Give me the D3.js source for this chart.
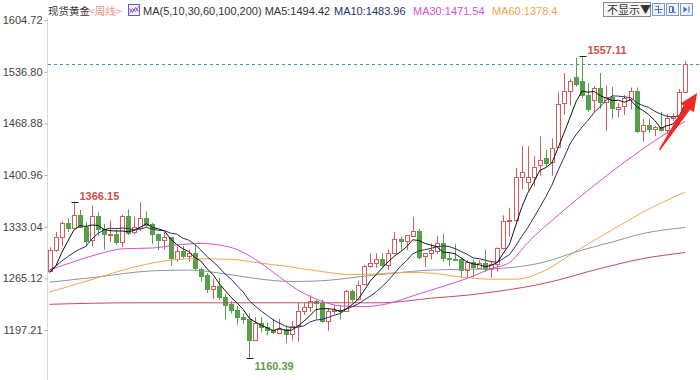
<!DOCTYPE html>
<html>
<head>
<meta charset="utf-8">
<script src="https://cdn.jsdelivr.net/npm/d3@7"></script>
<style>
  body { margin: 0; background: #fff; }
  svg { display: block; font-family: "Liberation Sans", Arial, "Noto Sans CJK SC", sans-serif; }
</style>
</head>
<body>
<div id="chart"></div>
<script>
// weekly candles, week of 2017-12-25 .. week of 2019-12-30 (index 0..105)
const opens = [
  1275,1303,1320,1338,1332,1349,1333,1315,1347,1330,
  1323,1324,1313,1347,1325,1332,1345,1336,1323,1315,
  1319,1291,1301,1294,1298,1278,1269,1251,1255,1241,
  1231,1223,1214,1212,1184,1206,1201,1197,1194,1199,
  1192,1203,1222,1227,1235,1233,1209,1222,1223,1222,
  1248,1238,1257,1281,1285,1290,1282,1298,1317,1314,
  1322,1328,1294,1298,1302,1312,1292,1291,1290,1275,
  1286,1279,1285,1277,1284,1305,1341,1342,1398,1392,
  1399,1414,1423,1418,1438,1495,1511,1530,1524,1506,
  1499,1515,1497,1504,1488,1491,1502,1512,1459,1467,
  1461,1464,1460,1476,1478,1510
];
const highs = [
  1306,1326,1340,1344,1366.15,1355,1339,1361,1352,1337,
  1341,1329,1349,1356,1346,1365,1353,1338,1324,1326,
  1319,1307,1308,1303,1309,1279,1272,1264,1266,1245,
  1235,1229,1219,1219,1214,1214,1207,1212,1212,1203,
  1209,1233,1233,1243,1237,1237,1225,1230,1230,1250,
  1250,1262,1283,1298,1298,1298,1303,1326,1320,1322,
  1346,1330,1298,1311,1321,1324,1298,1310,1292,1289,
  1290,1289,1303,1287,1306,1348,1358,1410,1439,1439,
  1426,1452,1434,1449,1510,1535,1527,1555,1557.11,1522,
  1518,1535,1519,1517,1496,1506,1516,1516,1475,1475,
  1465,1484,1481,1482,1514,1551
];
const lows = [
  1274,1300,1307,1326,1331,1331,1307,1307,1321,1303,
  1313,1309,1306,1322,1323,1327,1332,1310,1302,1303,
  1282,1287,1291,1287,1275,1261,1246,1238,1237,1211,
  1219,1204,1205,1160.39,1183,1194,1190,1192,1192,1180,
  1183,1182,1217,1221,1211,1207,1196,1218,1211,1221,
  1234,1236,1256,1279,1279,1280,1276,1297,1303,1302,
  1321,1290,1280,1290,1297,1287,1281,1288,1266,1267,
  1266,1278,1274,1266,1274,1305,1320,1339,1382,1381,
  1386,1400,1411,1400,1437,1480,1492,1517,1502,1484,
  1484,1488,1459,1475,1477,1480,1487,1456,1445,1456,
  1452,1458,1455,1472,1477,1510
];
const closes = [
  1303,1320,1338,1332,1349,1333,1315,1347,1330,1323,
  1324,1313,1347,1325,1332,1345,1336,1323,1315,1319,
  1291,1301,1294,1298,1278,1269,1251,1255,1241,1231,
  1223,1214,1212,1184,1206,1201,1197,1194,1199,1192,
  1203,1222,1227,1235,1233,1209,1222,1223,1222,1248,
  1238,1257,1281,1285,1290,1282,1298,1317,1314,1322,
  1328,1294,1298,1302,1312,1292,1291,1290,1275,1286,
  1279,1285,1277,1284,1305,1341,1342,1398,1405,1399,
  1412,1421,1417,1436,1495,1511,1524,1521,1506,1488,
  1515,1497,1504,1490,1491,1502,1512,1459,1467,1462,
  1464,1460,1476,1478,1510,1547
];

// fast moving averages, one value per candle
const ma5 = [
  1272.6,1280.6,1298.6,1313.6,1328.4,1334.4,1333.4,1335.2,1334.8,1329.6,
  1327.8,1327.4,1327.4,1326.4,1328.2,1332.4,1337,1332.2,1330.2,1327.6,
  1316.8,1309.8,1304,1300.6,1292.4,1288,1278,1270.2,1258.8,1249.4,
  1240.2,1232.8,1224.2,1212.8,1207.8,1203.4,1200,1196.4,1199.4,1196.6,
  1197,1202,1208.6,1215.8,1224,1225.2,1225.2,1224.4,1221.8,1224.8,
  1230.6,1237.6,1249.2,1261.8,1270.2,1279,1287.2,1294.4,1300.2,1306.6,
  1315.8,1315,1311.2,1308.8,1306.8,1299.6,1299,1297.4,1292,1286.8,
  1284.2,1283,1280.4,1282.2,1286,1298.4,1309.8,1334,1358.2,1377,
  1391.2,1407,1410.8,1417,1436.2,1456,1476.6,1497.4,1511.4,1510,
  1510.8,1505.4,1502,1498.8,1499.4,1496.8,1499.8,1490.8,1486.2,1480.4,
  1472.8,1462.4,1465.8,1468,1477.6,1494.42
];
const ma10 = [
  1275.5,1280.9,1287.8,1293.5,1299,1303.5,1307,1316.9,1324.2,1329,
  1331.1,1330.4,1331.3,1330.6,1328.9,1330.1,1332.2,1329.8,1328.3,1327.9,
  1324.6,1323.4,1318.1,1315.4,1310,1302.4,1293.9,1287.1,1279.7,1270.9,
  1264.1,1255.4,1247.2,1235.8,1228.6,1221.8,1216.4,1210.3,1206.1,1202.2,
  1200.2,1201,1202.5,1207.6,1210.3,1211.1,1213.6,1216.5,1218.8,1224.4,
  1227.9,1231.4,1236.8,1241.8,1247.5,1254.8,1262.4,1271.8,1281,1288.4,
  1297.4,1301.1,1302.8,1304.5,1306.7,1307.7,1307,1304.3,1300.4,1296.8,
  1291.9,1291,1288.9,1287.1,1286.4,1291.3,1296.4,1307.2,1320.2,1331.5,
  1344.8,1358.4,1372.4,1387.6,1406.6,1423.6,1441.8,1454.1,1464.2,1473.1,
  1483.4,1491,1499.7,1505.1,1504.7,1503.8,1502.6,1496.4,1492.5,1489.9,
  1484.8,1481.1,1478.3,1477.1,1479,1483.96
];

// slow moving averages, read at [candle index, value]
const ma30 = [[0,1276],[4,1287],[9,1299],[12,1304],[17,1305],[21,1309],[25,1311],[28,1309],
  [31,1303],[34,1290],[37,1273],[41,1250],[45,1235],[48,1229],[52,1228],[56,1232],[60,1242],
  [64,1252],[69,1265],[73,1278],[76,1286],[79,1312],[84,1348],[89,1381],[95,1418],[100,1446],[105,1471.54]];
const ma60 = [[0,1247],[8,1266],[14,1280],[19,1288],[24,1291],[30,1290],[35,1285],[40,1280],
  [45,1274],[50,1270],[54,1271],[59,1273],[63,1272],[68,1267],[73,1264],[77,1264],[82,1276],
  [87,1301],[93,1329],[98,1352],[105,1378.4]];
const ma100 = [[0,1260],[8,1267],[17,1275],[23,1276],[29,1271],[34,1265],[40,1261],[45,1262],
  [51,1267],[57,1272],[63,1276],[69,1277],[74,1278],[82,1287],[87,1300],[93,1313],[98,1324],[105,1332]];
const ma200 = [[0,1231],[14,1233],[30,1233],[45,1233],[55,1233],[63,1239],[69,1243],[74,1248],
  [82,1259],[90,1276],[98,1291],[105,1299]];

const yTicks = [1604.72, 1536.80, 1468.88, 1400.96, 1333.04, 1265.12, 1197.21];
const lastPrice = 1547;
const highMarks = [4, 88];   // candles whose high is labelled
const lowMarks = [33];       // candle whose low is labelled
const arrowFrom = [100.8, 1434], arrowTo = [107, 1509];

const width = 700, height = 380;
const upColor = '#d65a5e', downColor = '#56a049';

const svg = d3.select('#chart').append('svg')
  .attr('width', width).attr('height', height);

const x = d3.scaleLinear().domain([0, 105]).range([49.5, 685]);
const y = d3.scaleLinear().domain([1197.21, 1604.72]).range([330, 20.1]);
const cx = i => Math.round(x(i)) + 0.5;

// y axis
svg.append('line')
  .attr('x1', 47.5).attr('x2', 47.5).attr('y1', 18).attr('y2', height)
  .attr('stroke', '#dcdcdc');

const yAxis = d3.axisLeft(y).tickValues(yTicks).tickFormat(d3.format('.2f'))
  .tickSize(3).tickPadding(2);
svg.append('g')
  .attr('transform', 'translate(47.5,0)')
  .call(yAxis)
  .call(g => g.select('.domain').remove())
  .call(g => g.selectAll('.tick line').attr('stroke', '#aaa'))
  .call(g => g.selectAll('.tick text').attr('fill', '#444').attr('font-size', 11)
    .attr('font-family', '"Liberation Sans", Arial, sans-serif'));

// last price line
svg.append('line')
  .attr('x1', 48).attr('x2', width)
  .attr('y1', Math.round(y(lastPrice)) + 0.5).attr('y2', Math.round(y(lastPrice)) + 0.5)
  .attr('stroke', '#3d8fcf').attr('stroke-dasharray', '3,3');

// candles
const idx = d3.range(closes.length);
const candles = svg.append('g').selectAll('g').data(idx).join('g')
  .attr('stroke', i => closes[i] >= opens[i] ? upColor : downColor);

candles.append('line')
  .attr('x1', cx).attr('x2', cx)
  .attr('y1', i => y(highs[i])).attr('y2', i => y(lows[i]));

candles.append('rect')
  .attr('x', i => cx(i) - 2)
  .attr('width', 4)
  .attr('y', i => Math.round(y(Math.max(opens[i], closes[i]))) + 0.5)
  .attr('height', i => Math.max(1, Math.round(Math.abs(y(opens[i]) - y(closes[i])))))
  .attr('fill', i => closes[i] >= opens[i] ? '#fff' : downColor);

// moving averages
const slowLine = d3.line().x(d => x(d[0])).y(d => y(d[1])).curve(d3.curveMonotoneX);
const fastLine = d3.line().x((d, i) => x(i)).y(d => y(d));

[[ma200, '#c24d62'], [ma100, '#8a96a6'], [ma60, '#f0a64c'], [ma30, '#d84fd8']]
  .forEach(([data, color]) => {
    svg.append('path').datum(data).attr('d', slowLine)
      .attr('fill', 'none').attr('stroke', color).attr('stroke-width', 1);
  });
[[ma10, '#27306e'], [ma5, '#111']].forEach(([data, color]) => {
  svg.append('path').datum(data).attr('d', fastLine)
    .attr('fill', 'none').attr('stroke', color).attr('stroke-width', 1);
});

// extreme value labels
highMarks.forEach(i => {
  const px = cx(i), py = Math.round(y(highs[i])) + 0.5;
  svg.append('line').attr('x1', px - 3).attr('x2', px + 4).attr('y1', py).attr('y2', py)
    .attr('stroke', '#222');
  svg.append('text').attr('x', px + 5).attr('y', py - 3)
    .attr('font-size', 11).attr('font-weight', 'bold').attr('fill', '#d0504f')
    .text(d3.format('.2f')(highs[i]));
});
lowMarks.forEach(i => {
  const px = cx(i), py = Math.round(y(lows[i])) + 0.5;
  svg.append('line').attr('x1', px - 3).attr('x2', px + 4).attr('y1', py).attr('y2', py)
    .attr('stroke', '#222');
  svg.append('text').attr('x', px + 5).attr('y', py + 11)
    .attr('font-size', 11).attr('font-weight', 'bold').attr('fill', '#5f9e4a')
    .text(d3.format('.2f')(lows[i]));
});

// red arrow
{
  const x0 = x(arrowFrom[0]), y0 = y(arrowFrom[1]);
  const x1 = x(arrowTo[0]), y1 = y(arrowTo[1]);
  const len = Math.hypot(x1 - x0, y1 - y0);
  const ux = (x1 - x0) / len, uy = (y1 - y0) / len;
  const nx = -uy, ny = ux;
  const head = 18, hw = 8, sw = 3.5, tw = 0.8;
  const bx = x1 - ux * head, by = y1 - uy * head;
  const pts = [
    [x0 + nx * tw, y0 + ny * tw],
    [bx + nx * sw, by + ny * sw],
    [bx + nx * hw, by + ny * hw],
    [x1, y1],
    [bx - nx * hw, by - ny * hw],
    [bx - nx * sw, by - ny * sw],
    [x0 - nx * tw, y0 - ny * tw]
  ];
  svg.append('polygon').attr('points', pts.map(p => p.join(',')).join(' '))
    .attr('fill', '#ee2a24');
}

// header
const header = svg.append('g').attr('font-size', 11);
header.append('text').attr('x', 48).attr('y', 15).attr('fill', '#333')
  .attr('font-family', '"Noto Sans CJK SC", sans-serif').attr('font-size', 10.5).text('现货黄金');
header.append('text').attr('x', 89).attr('y', 15).attr('fill', '#ef8f80')
  .attr('font-family', '"Noto Sans CJK SC", sans-serif').attr('font-size', 10.5).text('<周线>');
const icon = header.append('g').attr('transform', 'translate(128.5,4.5)');
icon.append('rect').attr('width', 11).attr('height', 11).attr('fill', '#f3f0ff').attr('stroke', '#5a63c8');
icon.append('polyline').attr('points', '1,9 4,4 7,7 10,2').attr('fill', 'none').attr('stroke', '#d04fc8');
icon.append('polyline').attr('points', '1,4 4,8 7,3 10,7').attr('fill', 'none').attr('stroke', '#5a63c8');
header.append('text').attr('x', 143).attr('y', 15).attr('fill', '#333')
  .text('MA(5,10,30,60,100,200) MA5:' + ma5[ma5.length - 1].toFixed(2));
header.append('text').attr('x', 334).attr('y', 15).attr('fill', '#27306e')
  .text('MA10:' + ma10[ma10.length - 1]);
header.append('text').attr('x', 413).attr('y', 15).attr('fill', '#d84fd8')
  .text('MA30:' + ma30[ma30.length - 1][1]);
header.append('text').attr('x', 492).attr('y', 15).attr('fill', '#f0a64c')
  .text('MA60:' + ma60[ma60.length - 1][1]);

// toolbar
svg.append('rect').attr('x', 603.5).attr('y', 2.5).attr('width', 47).attr('height', 14)
  .attr('fill', '#f6f6f6').attr('stroke', '#8a8a8a');
svg.append('text').attr('x', 607).attr('y', 14).attr('font-size', 11).attr('fill', '#333')
  .attr('font-family', '"Noto Sans CJK SC", sans-serif').text('不显示▼');
[652.5, 666.5, 680.5].forEach((bx, k) => {
  const b = svg.append('g').attr('transform', `translate(${bx},3.5)`);
  b.append('rect').attr('width', 12).attr('height', 12).attr('fill', '#eef3fb').attr('stroke', '#7d9ad0');
  if (k === 0) {
    b.append('path').attr('d', 'M6,2V10M2,6H10M3,3H5M7,9H9').attr('stroke', '#3e6fc0');
  } else if (k === 1) {
    b.append('path').attr('d', 'M3,3V9H6V3ZM7,3V9H9').attr('fill', 'none').attr('stroke', '#3e6fc0');
  } else {
    b.append('path').attr('d', 'M3,3L7,6L3,9Z').attr('fill', '#3e6fc0');
    b.append('path').attr('d', 'M8.5,3V9').attr('stroke', '#3e6fc0');
  }
});
</script>
</body>
</html>
